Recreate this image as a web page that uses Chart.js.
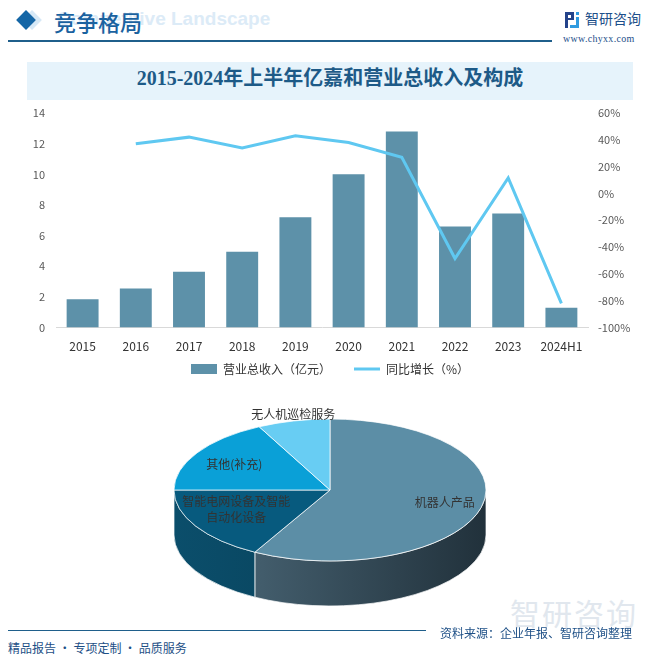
<!DOCTYPE html>
<html>
<head>
<meta charset="utf-8">
<script src="https://cdn.jsdelivr.net/npm/chart.js@4"></script>
<style>
  body { margin: 0; width: 660px; height: 658px; position: relative; background: #fff; overflow: hidden;
         font-family: "Noto Sans CJK SC", sans-serif; }
  .abs { position: absolute; }
  #dia2 { left: 25px; top: 13px; width: 14px; height: 14px; background: #d6e8f6; transform: rotate(45deg); }
  #dia { left: 19px; top: 13px; width: 14px; height: 14px; background: #1566a6; transform: rotate(45deg); }
  #bgEn { left: 57px; top: 8px; font: bold 19px "Liberation Sans", Arial, sans-serif; color: #dcebf7; white-space: nowrap; }
  #head { left: 54px; top: 5px; font-size: 22px; color: #1a62a0; font-weight: 500; }
  #hline { left: 8px; top: 40px; width: 544px; height: 2px; background: #1f5f8b; }
  #logoIcon { left: 565px; top: 12px; width: 14px; height: 16px; }
  #logoTxt { left: 585px; top: 8px; font-size: 14px; color: #1d4f8a; }
  #url { left: 563px; top: 33px; font: 10px "Liberation Serif", serif; color: #1d4f8a; letter-spacing: 0.3px; }
  #band { left: 27px; top: 62px; width: 606px; height: 38px; background: #e6f3fb; }
  #title { left: 27px; top: 62px; width: 606px; height: 38px; line-height: 38px; text-align: center;
           font: bold 20px "Liberation Serif", "Noto Sans CJK SC", serif; color: #1d5a87; }
  #wm { left: 510px; top: 590px; font-size: 30px; color: #e1e7ee; letter-spacing: 2px; }
  #fline { left: 8px; top: 630px; width: 418px; height: 1px; background: #1f5f8b; }
  #src { left: 440px; top: 624px; font-size: 12px; color: #1d4f86; }
  #slogan { left: 8px; top: 639px; font-size: 12px; color: #1d4f86; }
</style>
</head>
<body>
<div class="abs" id="bgEn">Competitive Landscape</div>
<div class="abs" id="dia2"></div>
<div class="abs" id="dia"></div>
<div class="abs" id="head">竞争格局</div>
<div class="abs" id="hline"></div>
<svg class="abs" id="logoIcon" viewBox="0 0 14 16">
  <rect x="0" y="0" width="9" height="3" fill="#24438a"/><rect x="0" y="0" width="3" height="16" fill="#24438a"/>
  <rect x="6" y="0" width="3" height="8" fill="#24438a"/><rect x="3" y="6" width="6" height="2" fill="#24438a"/>
  <rect x="11" y="0" width="3" height="3" fill="#2f9be0"/><rect x="11" y="5" width="3" height="11" fill="#2f9be0"/>
  <rect x="5" y="13" width="9" height="3" fill="#2f9be0"/>
</svg>
<div class="abs" id="logoTxt">智研咨询</div>
<div class="abs" id="url">www.chyxx.com</div>
<div class="abs" id="band"></div>
<div class="abs" id="title">2015-2024年上半年亿嘉和营业总收入及构成</div>
<div class="abs" id="wm">智研咨询</div>

<div class="abs" style="left:0;top:100px;"><canvas id="barChart" width="660" height="285"></canvas></div>
<div class="abs" style="left:0;top:390px;"><canvas id="pieChart" width="660" height="240"></canvas></div>

<div class="abs" id="fline"></div>
<div class="abs" id="src">资料来源：企业年报、智研咨询整理</div>
<div class="abs" id="slogan">精品报告 · 专项定制 · 品质服务</div>

<script>
const years = ['2015', '2016', '2017', '2018', '2019', '2020', '2021', '2022', '2023', '2024H1'];
const revenue = [1.85, 2.55, 3.65, 4.95, 7.2, 10.0, 12.8, 6.6, 7.45, 1.3];
const growth = [null, 37, 42, 34, 43, 38, 27, -48.5, 11.6, -82];

const parts = ['机器人产品', '智能电网设备及智能自动化设备', '其他(补充)', '无人机巡检服务'];
const shares = [58, 17, 17.5, 7.5];

const barColor = '#5d91a9';
const lineColor = '#5fc8f1';
const pieColors = ['#5c8ea6', '#075a7e', '#0aa0d7', '#68cdf3'];
const sideColors = [['#4f6d7e', '#21313b'], ['#0b4e6b', '#05394f'], ['#08799f', '#055f80'], ['#4fa8c8', '#3b8fb0']];

Chart.defaults.font.family = '"Noto Sans CJK SC", sans-serif';

new Chart(document.getElementById('barChart'), {
    type: 'bar',
    data: {
        labels: years,
        datasets: [
            {
                type: 'line',
                label: '同比增长（%）',
                data: growth,
                yAxisID: 'y1',
                borderColor: lineColor,
                backgroundColor: lineColor,
                borderWidth: 3,
                pointRadius: 0,
                pointStyle: 'line',
                tension: 0,
                order: 0
            },
            {
                label: '营业总收入（亿元）',
                data: revenue,
                yAxisID: 'y',
                backgroundColor: barColor,
                categoryPercentage: 0.6,
                barPercentage: 1,
                pointStyle: 'rect',
                order: 1
            }
        ]
    },
    options: {
        responsive: false,
        animation: false,
        layout: { padding: { top: 13, left: 0, right: 0, bottom: 0 } },
        plugins: {
            tooltip: { enabled: false },
            legend: {
                position: 'bottom',
                reverse: true,
                labels: {
                    usePointStyle: true,
                    pointStyleWidth: 26,
                    boxHeight: 10,
                    padding: 5,
                    color: '#333',
                    font: { size: 12 },
                    generateLabels: chart => {
                        const items = Chart.defaults.plugins.legend.labels.generateLabels(chart);
                        items.forEach(it => { if (it.datasetIndex === 1) it.text += '\u3000\u3000'; });
                        return items;
                    }
                }
            }
        },
        scales: {
            x: {
                grid: { display: false },
                border: { color: '#d9d9d9' },
                ticks: { color: '#333', font: { size: 12 }, padding: 4 }
            },
            y: {
                position: 'left',
                min: 0, max: 14,
                ticks: { stepSize: 2, color: '#595959', font: { size: 11 }, padding: 3 },
                grid: { display: false },
                border: { display: false },
                afterFit: s => { s.width = 56; }
            },
            y1: {
                position: 'right',
                min: -100, max: 60,
                ticks: { stepSize: 20, color: '#595959', font: { size: 11 }, padding: 2,
                         callback: v => v + '%' },
                grid: { display: false },
                border: { display: false },
                afterFit: s => { s.width = 72; }
            }
        }
    }
});

// 3D look for the pie: flatten the top face and draw side walls under it
const tilt = 0.455;
const depth = 45;
const labelNudge = [[0.76, 0, -1], [0.72, 3, -7], [0.72, 0, 1], [1.12, 4, 2]];

const pie3d = {
    id: 'pie3d',
    beforeDatasetsDraw(chart) {
        const ctx = chart.ctx;
        const arcs = chart.getDatasetMeta(0).data;
        const cx = arcs[0].x, cy = arcs[0].y;
        arcs.forEach((arc, i) => {
            const r = arc.outerRadius;
            const a1 = Math.max(arc.startAngle, 0);
            const a2 = Math.min(arc.endAngle, Math.PI);
            if (a2 <= a1) return;
            const ry = r * tilt;
            ctx.save();
            ctx.beginPath();
            ctx.ellipse(cx, cy, r, ry, 0, a1, a2);
            ctx.lineTo(cx + r * Math.cos(a2), cy + ry * Math.sin(a2) + depth);
            ctx.ellipse(cx, cy + depth, r, ry, 0, a2, a1, true);
            ctx.closePath();
            const g = ctx.createLinearGradient(cx - r, 0, cx + r, 0);
            g.addColorStop(0, sideColors[i][0]);
            g.addColorStop(1, sideColors[i][1]);
            ctx.fillStyle = g;
            ctx.fill();
            ctx.strokeStyle = 'rgba(255,255,255,0.7)';
            ctx.lineWidth = 1;
            ctx.stroke();
            ctx.restore();
        });
        ctx.save();
        ctx.translate(cx, cy);
        ctx.scale(1, tilt);
        ctx.translate(-cx, -cy);
    },
    afterDatasetsDraw(chart) {
        chart.ctx.restore();
    },
    afterDraw(chart) {
        const ctx = chart.ctx;
        const arcs = chart.getDatasetMeta(0).data;
        ctx.save();
        ctx.font = '12px "Noto Sans CJK SC", sans-serif';
        ctx.fillStyle = '#333';
        ctx.textAlign = 'center';
        ctx.textBaseline = 'middle';
        arcs.forEach((arc, i) => {
            const mid = (arc.startAngle + arc.endAngle) / 2;
            const [f, dx, dy] = labelNudge[i];
            const x = arc.x + f * arc.outerRadius * Math.cos(mid) + dx;
            const y = arc.y + f * arc.outerRadius * tilt * Math.sin(mid) + dy;
            const name = parts[i];
            if (name.length > 8) {
                ctx.fillText(name.slice(0, 9), x, y - 8);
                ctx.fillText(name.slice(9), x, y + 8);
            } else {
                ctx.fillText(name, x, y);
            }
        });
        ctx.restore();
    }
};

new Chart(document.getElementById('pieChart'), {
    type: 'pie',
    data: {
        labels: parts,
        datasets: [{
            data: shares,
            backgroundColor: pieColors,
            borderColor: '#ffffff',
            borderWidth: 1,
            radius: 156,
            clip: false
        }]
    },
    options: {
        responsive: false,
        animation: false,
        layout: { padding: { top: 0, bottom: 40 } },
        plugins: { legend: { display: false }, tooltip: { enabled: false } }
    },
    plugins: [pie3d]
});
</script>
</body>
</html>
